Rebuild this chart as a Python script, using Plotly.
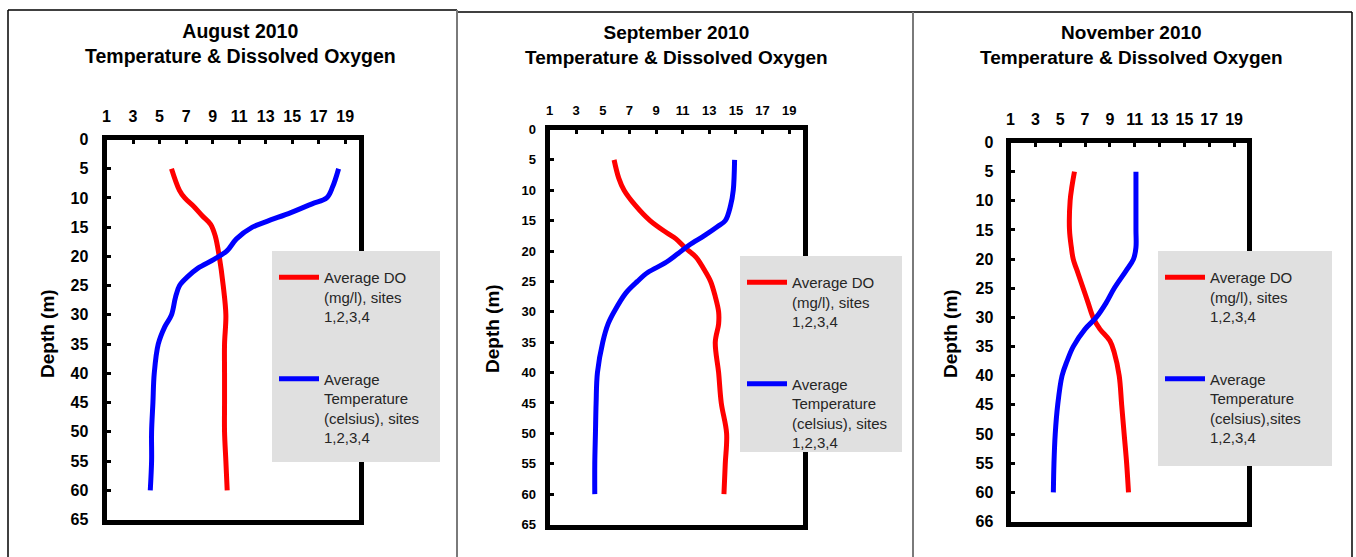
import plotly.graph_objects as go

W, H = 1356, 557

# ---------------- data ----------------
months = ["August 2010", "September 2010", "November 2010"]

aug_do_depth = [5, 8.7, 10, 11.5, 13, 14.5, 16.5, 20, 25, 30, 35, 40, 45, 50, 55, 60]
aug_do = [5.9, 6.5, 6.9, 7.6, 8.2, 8.85, 9.2, 9.5, 9.8, 10.0, 9.9, 9.9, 9.9, 9.9, 10.0, 10.1]
aug_t_depth = [5, 8.1, 10, 11, 12.5, 14, 15, 17, 19, 20.5, 22, 23.5, 25, 27, 30, 32, 35, 40, 45, 50, 55, 60]
aug_t = [18.5, 18.05, 17.6, 16.5, 14.9, 13.1, 12.0, 10.8, 10.1, 9.1, 7.9, 7.1, 6.5, 6.2, 5.9, 5.4, 4.9, 4.6, 4.5, 4.4, 4.4, 4.3]

sep_do_depth = [5, 8, 10, 12.5, 15, 17, 18, 19.5, 21, 23, 25, 27.5, 30, 32, 35, 40, 45, 50, 55, 60]
sep_do = [5.85, 6.2, 6.6, 7.45, 8.55, 9.8, 10.5, 11.2, 12.0, 12.6, 13.1, 13.45, 13.7, 13.7, 13.45, 13.7, 13.9, 14.3, 14.2, 14.1]
sep_t_depth = [5, 10, 12.5, 15, 16, 17.5, 19, 20.5, 22, 23.5, 25, 27, 30, 32, 35, 40, 45, 50, 55, 60]
sep_t = [14.9, 14.8, 14.6, 14.2, 13.6, 12.6, 11.5, 10.6, 9.65, 8.4, 7.6, 6.7, 5.85, 5.4, 5.0, 4.6, 4.5, 4.45, 4.4, 4.4]

nov_do_depth = [5, 7.5, 10, 15, 18, 20, 22.5, 25, 27.5, 30, 32, 34, 36, 40, 45, 50, 55, 60]
nov_do = [6.15, 5.95, 5.8, 5.75, 5.9, 6.05, 6.45, 6.85, 7.25, 7.65, 8.2, 9.0, 9.35, 9.75, 9.95, 10.15, 10.35, 10.5]
nov_t_depth = [5, 10, 15, 18, 20, 22, 25, 27.5, 30, 32, 35, 37.5, 40, 45, 50, 55, 60]
nov_t = [11.1, 11.1, 11.1, 11.1, 10.9, 10.3, 9.35, 8.7, 7.9, 7.0, 6.05, 5.55, 5.15, 4.8, 4.6, 4.5, 4.45]

x_ticks = [1, 3, 5, 7, 9, 11, 13, 15, 17, 19]
y_ticks = [0, 5, 10, 15, 20, 25, 30, 35, 40, 45, 50, 55, 60, 65]
y_ticktext_std = ["0", "5", "10", "15", "20", "25", "30", "35", "40", "45", "50", "55", "60", "65"]
y_ticktext_nov = ["0", "5", "10", "15", "20", "25", "30", "35", "40", "45", "50", "55", "60", "66"]

do_names = ["Average DO<br>(mg/l), sites<br>1,2,3,4"] * 3
t_names = ["Average<br>Temperature<br>(celsius), sites<br>1,2,3,4",
           "Average<br>Temperature<br>(celsius), sites<br>1,2,3,4",
           "Average<br>Temperature<br>(celsius),sites<br>1,2,3,4"]

series = [
    (aug_do, aug_do_depth, aug_t, aug_t_depth, y_ticktext_std),
    (sep_do, sep_do_depth, sep_t, sep_t_depth, y_ticktext_std),
    (nov_do, nov_do_depth, nov_t, nov_t_depth, y_ticktext_nov),
]

# ---------------- layout geometry (pixels) ----------------
# plot frame (line centres): left, right, top, bottom
boxes = [(104, 361, 137, 522), (547, 805, 127, 527), (1008, 1249, 140, 524)]
tick_font = [16, 13, 16]
x_standoff = [6, 4, 6]
y_standoff = [10, 6, 9]
title_pos = [(240, 43.5, 19.5), (676, 45, 19), (1131, 45, 19)]
depth_pos = [(47, 334), (492, 329), (950, 334)]
legend_boxes = [(272, 440, 251, 462), (740, 902, 256, 452), (1158, 1332, 251, 466)]

FONT = "Liberation Sans, Arial, sans-serif"
LW = 5


def px_x(v):
    return v / W


def px_y(v):
    return 1 - v / H


fig = go.Figure()
layout = dict(
    width=W, height=H, margin=dict(l=0, r=0, t=0, b=0, pad=0, autoexpand=False),
    paper_bgcolor="white", plot_bgcolor="white",
    font=dict(family=FONT, color="black"),
    showlegend=True, shapes=[], annotations=[],
)

for i, (do, do_d, t, t_d, ytext) in enumerate(series):
    n = "" if i == 0 else str(i + 1)
    xa, ya = "x" + n, "y" + n
    leg = "legend" + n
    fig.add_trace(go.Scatter(
        x=do, y=do_d, xaxis=xa, yaxis=ya, mode="lines", name=do_names[i],
        line=dict(color="#ff0000", width=LW, shape="spline", smoothing=1.0),
        legend=leg, legendgroup="do%d" % i, hoverinfo="skip"))
    fig.add_trace(go.Scatter(
        x=t, y=t_d, xaxis=xa, yaxis=ya, mode="lines", name=t_names[i],
        line=dict(color="#0000ff", width=LW, shape="spline", smoothing=1.0),
        legend=leg, legendgroup="t%d" % i, hoverinfo="skip"))

    l, r, tp, b = boxes[i]
    h = LW / 2
    layout["xaxis" + n] = dict(
        domain=[px_x(l + h), px_x(r - h)], anchor=ya, side="top",
        range=[1, 20], tickvals=x_ticks, ticks="inside", ticklen=4, tickwidth=3,
        tickcolor="black", showline=True, linewidth=LW, linecolor="black", mirror=True,
        showgrid=False, zeroline=False, fixedrange=True, ticklabelstandoff=x_standoff[i],
        tickfont=dict(family=FONT, size=tick_font[i], color="black", weight="bold"),
    )
    layout["yaxis" + n] = dict(
        domain=[px_y(b - h), px_y(tp + h)], anchor=xa,
        range=[65, 0], tickvals=y_ticks, ticktext=ytext, ticks="inside", ticklen=4, tickwidth=3,
        tickcolor="black", showline=True, linewidth=LW, linecolor="black", mirror=True,
        showgrid=False, zeroline=False, fixedrange=True, ticklabelstandoff=y_standoff[i],
        tickfont=dict(family=FONT, size=tick_font[i], color="black", weight="bold"),
    )

    # grey legend panel
    lx0, lx1, ly0, ly1 = legend_boxes[i]
    layout["shapes"].append(dict(
        type="rect", xref="paper", yref="paper", layer="above",
        x0=px_x(lx0), x1=px_x(lx1), y0=px_y(ly1), y1=px_y(ly0),
        fillcolor="#e0e0e0", line=dict(width=0)))
    layout[leg] = dict(
        x=px_x(lx0 + 2), y=px_y(ly0 + 10), xanchor="left", yanchor="top",
        bgcolor="rgba(0,0,0,0)", borderwidth=0, valign="top",
        tracegroupgap=40, itemwidth=40,
        font=dict(family=FONT, size=15, color="#262626"),
    )

    tx, ty, ts = title_pos[i]
    layout["annotations"].append(dict(
        x=px_x(tx), y=px_y(ty), xref="paper", yref="paper", showarrow=False,
        xanchor="center", yanchor="middle",
        text="<b>%s<br>Temperature & Dissolved Oxygen</b>" % months[i],
        font=dict(family=FONT, size=ts, color="black")))
    dx, dy = depth_pos[i]
    layout["annotations"].append(dict(
        x=px_x(dx), y=px_y(dy), xref="paper", yref="paper", showarrow=False,
        xanchor="center", yanchor="middle", textangle=-90,
        text="<b>Depth (m)</b>", font=dict(family=FONT, size=19, color="black")))

# panel frames (document borders)
frame_lines = [
    (8, 10, 457, 10, "black", 1.5), (8, 10, 8, 557, "black", 1.5),
    (457, 12, 913, 12, "black", 1.5), (457, 10, 457, 557, "#7a7a7a", 2),
    (913, 12, 1352, 12, "black", 1.5), (913, 12, 913, 557, "#7a7a7a", 2),
    (1352, 12, 1352, 557, "black", 1.5),
]
for x0, y0, x1, y1, c, w in frame_lines:
    layout["shapes"].append(dict(
        type="line", xref="paper", yref="paper", layer="above",
        x0=px_x(x0), y0=px_y(y0), x1=px_x(x1), y1=px_y(y1),
        line=dict(color=c, width=w)))

fig.update_layout(**layout)
fig.write_html("out.html",
               post_script="document.body.style.margin='0';document.body.style.overflow='hidden';")
